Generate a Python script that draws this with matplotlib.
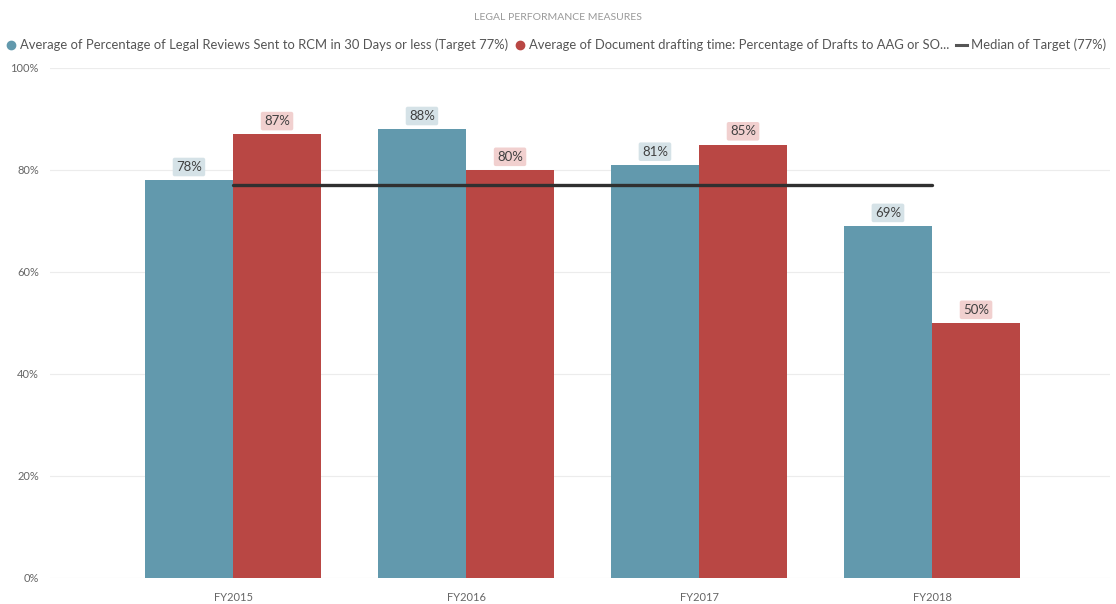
import matplotlib.pyplot as plt
from matplotlib.lines import Line2D
import numpy as np

plt.rcParams['font.family'] = ['Lato', 'DejaVu Sans']

years = ["FY2015", "FY2016", "FY2017", "FY2018"]
reviews = [78, 88, 81, 69]
drafting = [87, 80, 85, 50]
target = 77

reviews_label = "Average of Percentage of Legal Reviews Sent to RCM in 30 Days or less (Target 77%)"
drafting_label = "Average of Document drafting time: Percentage of Drafts to AAG or SO..."
target_label = "Median of Target (77%)"

blue = "#6299ad"
red = "#b94744"

fig = plt.figure(figsize=(11.16, 6.04), dpi=100)
ax = fig.add_axes([50/1116, 1 - 578/604, 1060/1116, 510/604])

x = np.arange(len(years))
w = 0.378

b1 = ax.bar(x - w/2, np.array(reviews) / 100, width=w, color=blue, zorder=2)
b2 = ax.bar(x + w/2, np.array(drafting) / 100, width=w, color=red, zorder=2)
ax.plot(x, [target / 100] * len(x), color="#303030", lw=2.4, zorder=3,
        solid_capstyle="round")

for bars, vals, bg in [(b1, reviews, "#d5e2e7"), (b2, drafting, "#f1d0cf")]:
    for rect, v in zip(bars, vals):
        ax.annotate(f"{v}%", (rect.get_x() + rect.get_width()/2, rect.get_height()),
                    xytext=(0, 9.5), textcoords="offset points", ha="center", va="center",
                    fontsize=9.5, color="#404040", zorder=4,
                    bbox=dict(boxstyle="round,pad=0.25,rounding_size=0.15",
                              fc=bg, ec="none"))

ax.set_xlim((50 - 233) / 233, (1110 - 233) / 233)
ax.set_ylim(0, 1)
ax.set_xticks(x)
ax.set_xticklabels(years)
ax.set_yticks([0, 0.2, 0.4, 0.6, 0.8, 1.0])
ax.set_yticklabels(["0%", "20%", "40%", "60%", "80%", "100%"])
ax.tick_params(axis="both", length=0, labelsize=8, labelcolor="#666666")
ax.tick_params(axis="x", pad=10)
ax.tick_params(axis="y", pad=8)
ax.grid(axis="y", color="#ececec", lw=0.8, zorder=0)
for s in ax.spines.values():
    s.set_visible(False)

fig.text(0.5, 1 - 18/604, "LEGAL PERFORMANCE MEASURES", ha="center", va="center",
         fontsize=7.5, color="#999999")

handles = [
    Line2D([], [], ls="none", marker="o", ms=6, color=blue, label=reviews_label),
    Line2D([], [], ls="none", marker="o", ms=6, color=red, label=drafting_label),
    Line2D([], [], color="#555555", lw=2.2, label=target_label),
]
fig.legend(handles=handles, loc="center left", bbox_to_anchor=(0.003, 1 - 45/604),
           ncol=3, frameon=False, fontsize=9.4, labelcolor="#555555",
           handlelength=0.8, handletextpad=0.3, columnspacing=0.5, borderaxespad=0,
           borderpad=0.2)

fig.savefig("out.png", dpi=100, facecolor="white")
